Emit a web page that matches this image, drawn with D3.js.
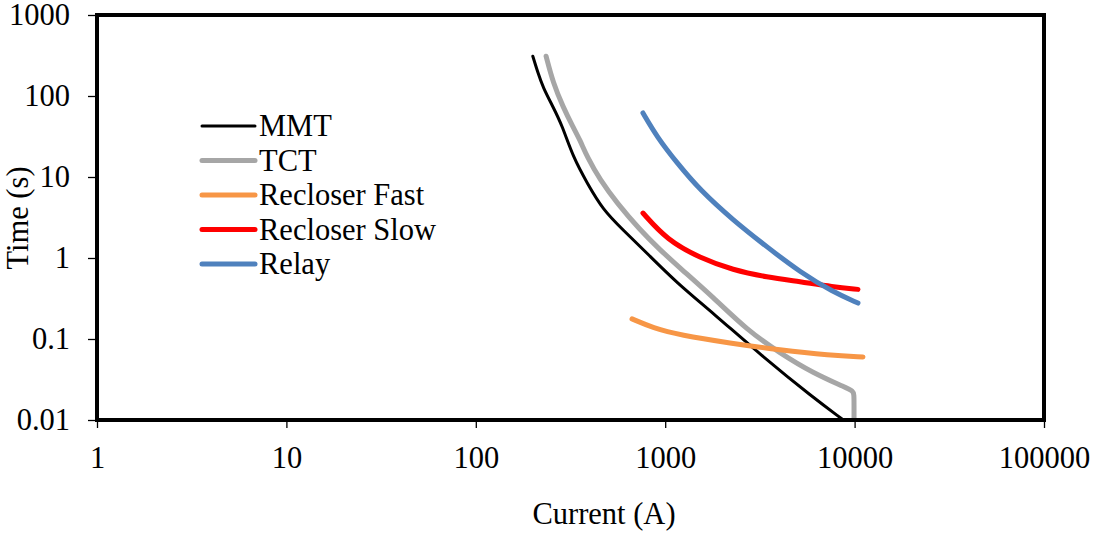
<!DOCTYPE html>
<html>
<head>
<meta charset="utf-8">
<script src="https://cdn.jsdelivr.net/npm/d3@7"></script>
<style>
  body { margin: 0; background: #fff; }
  text { font-family: "Liberation Serif", "Times New Roman", serif; fill: #000; }
</style>
</head>
<body>
<svg width="1093" height="535"></svg>
<script>
// current (A) / time (s) points
var mmtX = [200, 213, 226, 256, 285, 326, 387, 470, 599, 801, 1155, 1786, 3282, 6029, 8580];
var mmtY = [310, 192, 129, 73, 43.9, 17.7, 8.43, 3.91, 2.22, 1.15, 0.49, 0.21, 0.060, 0.019, 0.0103];
var tctX = [235, 256, 289, 326, 355, 387, 453, 556, 736, 939, 1197, 1786, 2704, 4036, 6029, 9120, 9800, 9930, 9930, 9930];
var tctY = [310, 145, 73, 41.4, 28.6, 17.7, 9.2, 4.78, 2.22, 1.26, 0.753, 0.33, 0.129, 0.067, 0.038, 0.0248, 0.0226, 0.021, 0.015, 0.0101];
var fastX = [668, 862, 1197, 2198, 4036, 7413, 11070];
var fastY = [0.177, 0.137, 0.112, 0.089, 0.073, 0.063, 0.060];
var slowX = [763, 1022, 1527, 2280, 3445, 5150, 7690, 10420];
var slowY = [3.59, 1.67, 1.0, 0.71, 0.58, 0.51, 0.44, 0.41];
var relayX = [763, 905, 1155, 1527, 2280, 3445, 5150, 7690, 10420];
var relayY = [61.7, 31.2, 14.9, 6.9, 2.94, 1.37, 0.67, 0.38, 0.278];

var xTicks = [1, 10, 100, 1000, 10000, 100000];
var yTicks = [0.01, 0.1, 1, 10, 100, 1000];
var seriesNames = ["MMT", "TCT", "Recloser Fast", "Recloser Slow", "Relay"];

var series = [
  {name: seriesNames[0], xs: mmtX, ys: mmtY, color: "#000000", w: 3},
  {name: seriesNames[1], xs: tctX, ys: tctY, color: "#A6A6A6", w: 5},
  {name: seriesNames[2], xs: fastX, ys: fastY, color: "#F79646", w: 5},
  {name: seriesNames[3], xs: slowX, ys: slowY, color: "#FF0000", w: 5},
  {name: seriesNames[4], xs: relayX, ys: relayY, color: "#4F81BD", w: 5}
];

var svg = d3.select("svg");
var mLeft = 97, mRight = 1044, mTop = 15, mBottom = 420;
var fs = 30.5;

var x = d3.scaleLog().domain([1, 100000]).range([mLeft, mRight]);
var y = d3.scaleLog().domain([0.01, 1000]).range([mBottom, mTop]);

var fmt = function(d) { return d3.format("~g")(d); };

svg.append("g")
    .attr("transform", "translate(0," + mBottom + ")")
    .call(d3.axisBottom(x).tickValues(xTicks).tickFormat(fmt).tickSize(8).tickPadding(18))
    .call(g => g.select(".domain").remove())
    .call(g => g.selectAll("line").attr("stroke", "#000").attr("stroke-width", 1.3))
    .call(g => g.selectAll("text").attr("font-size", fs).attr("font-family", "Liberation Serif"));

svg.append("g")
    .attr("transform", "translate(" + mLeft + ",0)")
    .call(d3.axisLeft(y).tickValues(yTicks).tickFormat(fmt).tickSize(9).tickPadding(18))
    .call(g => g.select(".domain").remove())
    .call(g => g.selectAll("line").attr("stroke", "#000").attr("stroke-width", 1.3))
    .call(g => g.selectAll("text").attr("font-size", fs).attr("font-family", "Liberation Serif"));

svg.append("clipPath").attr("id", "plot")
  .append("rect").attr("x", mLeft).attr("y", mTop - 5)
  .attr("width", mRight - mLeft).attr("height", mBottom - mTop + 3);

var lineT = d3.line()
    .x(d => x(d[0]))
    .y(d => y(d[1]))
    .curve(d3.curveBasis);

svg.append("g").attr("clip-path", "url(#plot)")
  .selectAll("path")
  .data(series)
  .enter().append("path")
    .attr("fill", "none")
    .attr("stroke", d => d.color)
    .attr("stroke-width", d => d.w)
    .attr("stroke-linecap", "round")
    .attr("stroke-linejoin", "round")
    .attr("d", d => lineT(d.xs.map((v, i) => [v, d.ys[i]])));

// frame
svg.append("rect")
    .attr("x", mLeft).attr("y", mTop)
    .attr("width", mRight - mLeft).attr("height", mBottom - mTop)
    .attr("fill", "none").attr("stroke", "#000").attr("stroke-width", 4);

// legend
var leg = svg.append("g").attr("transform", "translate(202,126)");
var items = leg.selectAll("g").data(series).enter().append("g")
    .attr("transform", (d, i) => "translate(0," + i * 34.5 + ")");
items.append("line")
    .attr("x1", 0).attr("x2", 53)
    .attr("stroke", d => d.color)
    .attr("stroke-width", d => d.w)
    .attr("stroke-linecap", "round");
items.append("text")
    .attr("x", 57).attr("y", 10)
    .attr("font-size", fs)
    .text(d => d.name);

svg.append("text")
    .attr("transform", "translate(28,218) rotate(-90)")
    .attr("text-anchor", "middle")
    .attr("font-size", fs)
    .text("Time (s)");

svg.append("text")
    .attr("x", 604).attr("y", 524)
    .attr("text-anchor", "middle")
    .attr("font-size", fs)
    .text("Current (A)");
</script>
</body>
</html>
